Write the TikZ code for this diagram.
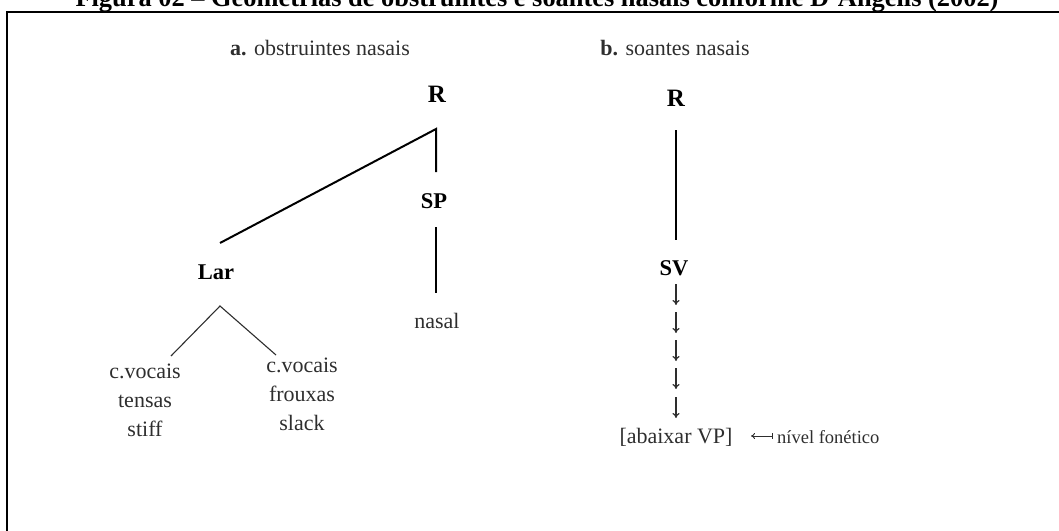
\documentclass[tikz,border=0pt]{standalone}
\usepackage{fontspec}
\setmainfont{Liberation Serif}
\usetikzlibrary{arrows.meta,calc}
\definecolor{txt}{gray}{0.18}
\begin{document}
\begin{tikzpicture}[x=1pt,y=-1pt,
  lbl/.style={font=\fontsize{22}{26}\selectfont, inner sep=0pt, text=txt, anchor=base},
  small/.style={font=\fontsize{18.5}{22}\selectfont, inner sep=0pt, text=txt, anchor=base west},
  catR/.style={font=\fontsize{25}{29}\selectfont\bfseries, inner sep=0pt, anchor=base},
  cat/.style={font=\fontsize{22.5}{27}\selectfont\bfseries, inner sep=0pt, anchor=base},
  tree/.style={line width=2pt},
  thinline/.style={line width=1.1pt, draw=txt},
  darr/.style={line width=1.2pt, draw=txt, -{To[length=5pt,width=7pt]}},
  frame/.style={line width=2pt}]
\useasboundingbox (0,0) rectangle (1059,530);
\clip (0,0) rectangle (1059,530);
% frame
\coordinate (fb) at (7,545);
\coordinate (fc) at (7,12);
\coordinate (fr) at (1075,12);
\draw[frame] (fb) -- (fc) -- (fr);
% title (cut at top, as in the reference)
\node[anchor=base, inner sep=0pt, font=\bfseries] (title) at (537,6)
  {\resizebox{923pt}{!}{Figura 02 -- Geometrias de obstruintes e soantes nasais conforme D'Angelis (2002)}};
% headers
\node[lbl] (ha) at (320,55) {\textbf{a.} obstruintes nasais};
\node[lbl] (hb) at (675,55) {\textbf{b.} soantes nasais};
% tree a
\node[catR] (Ra) at (437,102) {R};
\node[cat] (SP) at (434,208) {SP};
\node[lbl] (nasal) at (437,328) {nasal};
\node[cat] (Lar) at (216,279) {Lar};
\node[lbl,align=center,anchor=north] (tensas) at (145,364) {c.vocais\\[3pt]tensas\\[3pt]stiff};
\node[lbl,align=center,anchor=north] (frouxas) at (302,358) {c.vocais\\[3pt]frouxas\\[3pt]slack};
\coordinate (Rafoot) at (436,129);
\coordinate (SPtop) at (436,172);
\coordinate (Lartop) at (220,243);
\coordinate (SPfoot) at (436,227);
\coordinate (nasaltop) at (436,293);
\coordinate (Larfoot) at (220,306);
\coordinate (tensastop) at (171,356);
\coordinate (frouxastop) at (276,355);
\draw[tree] (Lartop) -- (Rafoot) -- (SPtop);
\draw[tree] (SPfoot) -- (nasaltop);
\draw[thinline] (tensastop) -- (Larfoot) -- (frouxastop);
% tree b
\node[catR] (Rb) at (676,106) {R};
\node[cat] (SV) at (674,275) {SV};
\coordinate (Rbfoot) at (676,130);
\coordinate (SVtop) at (676,240);
\draw[tree] (Rbfoot) -- (SVtop);
\foreach \i/\y in {1/284,2/312,3/340,4/368,5/397}{
  \coordinate (a\i s) at (676,\y);
  \coordinate (a\i e) at (676,\y+21);
  \draw[darr] (a\i s) -- (a\i e);
}
\node[lbl] (VP) at (676,443) {[abaixar VP]};
\coordinate (nivR) at (773,436);
\coordinate (nivL) at (751,436);
\draw[line width=0.9pt, draw=txt, {Bar[width=6pt]}-{To[length=4pt,width=6pt]}] (nivR) -- (nivL);
\node[small] (niv) at (777,443) {nível fonético};
\end{tikzpicture}
\end{document}
